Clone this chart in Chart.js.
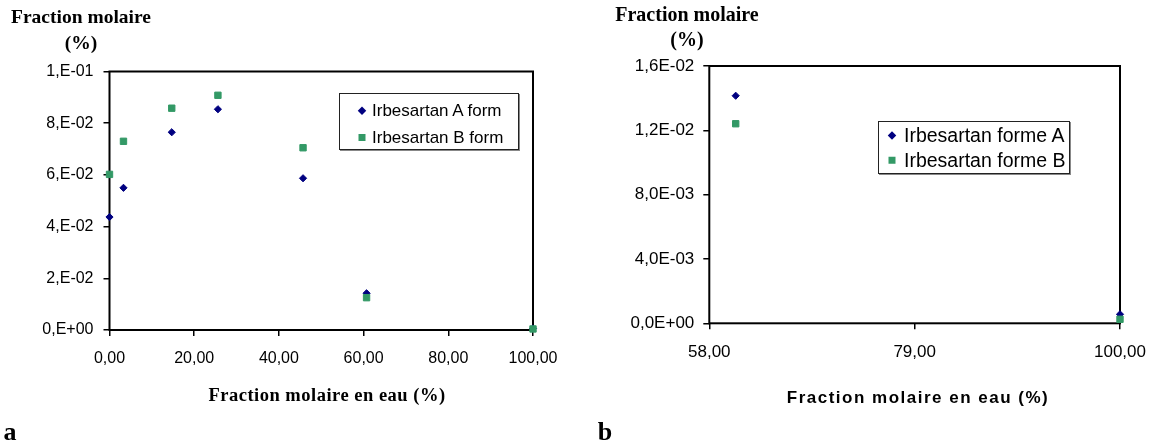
<!DOCTYPE html>
<html><head><meta charset="utf-8">
<script src="https://cdn.jsdelivr.net/npm/chart.js@4"></script>
<style>
html,body{margin:0;padding:0;background:#fff}
body{width:1151px;height:445px;position:relative;overflow:hidden}
canvas{position:absolute;top:0}
.t{position:absolute;white-space:nowrap;color:#000;transform:translate(-50%,-50%);line-height:1}
.serif{font-family:"Liberation Serif","Times New Roman",serif;font-weight:bold}
.sansb{font-family:"Liberation Sans",Arial,sans-serif;font-weight:bold}
.leg{position:absolute;border:1px solid #222;background:#fff;box-sizing:border-box;box-shadow:1px 1px 0 #888}
.row{position:absolute;left:0;white-space:nowrap;font-family:"Liberation Sans",Arial,sans-serif;color:#000;line-height:1;transform:translateY(-50%)}
.mk{position:absolute;top:50%}
</style>
</head><body>
<canvas id="ca" width="560" height="420" style="left:0"></canvas>
<canvas id="cb" width="571" height="420" style="left:580px"></canvas>

<div class="t serif" style="left:81px;top:17px;font-size:19.5px">Fraction molaire</div>
<div class="t serif" style="left:81px;top:43px;font-size:19.5px">(%)</div>
<div class="t serif" style="left:327px;top:395px;font-size:18.5px;letter-spacing:0.5px">Fraction molaire en eau (%)</div>
<div class="t serif" style="left:10px;top:432px;font-size:26px">a</div>

<div class="t serif" style="left:687px;top:14px;font-size:20px">Fraction molaire</div>
<div class="t serif" style="left:687px;top:39px;font-size:20px">(%)</div>
<div class="t sansb" style="left:918px;top:397px;font-size:17px;letter-spacing:1.5px">Fraction molaire en eau (%)</div>
<div class="t serif" style="left:605px;top:432px;font-size:26px">b</div>

<div id="legA" class="leg" style="left:339px;top:93px;width:180px;height:57px"></div>
<div id="legB" class="leg" style="left:878px;top:121px;width:192px;height:53px"></div>

<script>
// ---- Data: chart a ----
const waterA = [0, 3.3, 14.7, 25.6, 45.7, 60.7, 100];
const formA_a = [0.0437, 0.0550, 0.0765, 0.0854, 0.0587, 0.0142, 0.0006];
const formB_a = [0.0602, 0.0730, 0.0858, 0.0908, 0.0705, 0.0125, 0.0004];
const labelsA = ['Irbesartan A form', 'Irbesartan B form'];
const xTickValsA = [0, 20, 40, 60, 80, 100];
const xTickLabelsA = ['0,00', '20,00', '40,00', '60,00', '80,00', '100,00'];
const yTickValsA = [0, 0.02, 0.04, 0.06, 0.08, 0.1];
const yTickLabelsA = ['0,E+00', '2,E-02', '4,E-02', '6,E-02', '8,E-02', '1,E-01'];

// ---- Data: chart b ----
const waterB = [60.7, 100];
const formA_b = [0.01415, 0.00056];
const formB_b = [0.01241, 0.00025];
const labelsB = ['Irbesartan forme A', 'Irbesartan forme B'];
const xTickValsB = [58, 79, 100];
const xTickLabelsB = ['58,00', '79,00', '100,00'];
const yTickValsB = [0, 0.004, 0.008, 0.012, 0.016];
const yTickLabelsB = ['0,0E+00', '4,0E-03', '8,0E-03', '1,2E-02', '1,6E-02'];

const NAVY = '#000080';
const GREEN = '#339966';

const boxPlugin = {
  id: 'box',
  beforeDatasetsDraw(chart) {
    const a = chart.chartArea, ctx = chart.ctx;
    ctx.save();
    ctx.strokeStyle = '#000';
    ctx.lineWidth = 2;
    ctx.strokeRect(a.left, a.top, a.right - a.left, a.bottom - a.top);
    ctx.restore();
  }
};

function pts(xs, ys) { return xs.map((x, i) => ({x: x, y: ys[i]})); }

function makeChart(id, cfg) {
  const tickFont = {family: '"Liberation Sans", Arial, sans-serif', size: cfg.fontSize};
  return new Chart(document.getElementById(id), {
    type: 'scatter',
    data: {
      datasets: [
        {label: cfg.labels[0], data: pts(cfg.xs, cfg.ya), pointStyle: 'rectRot', pointRadius: 3.6,
         backgroundColor: NAVY, borderColor: NAVY, borderWidth: 1, order: 1, clip: false},
        {label: cfg.labels[1], data: pts(cfg.xs, cfg.yb), pointStyle: 'rect', pointRadius: 4.5,
         backgroundColor: GREEN, borderColor: GREEN, borderWidth: 1, order: 0, clip: false}
      ]
    },
    options: {
      responsive: false, animation: false, devicePixelRatio: 1,
      layout: {padding: {top: cfg.top, right: cfg.right, left: 0, bottom: 0}},
      plugins: {legend: {display: false}, tooltip: {enabled: false}},
      scales: {
        x: {
          type: 'linear', min: cfg.xTicks[0], max: cfg.xTicks[cfg.xTicks.length - 1],
          afterBuildTicks: s => { s.ticks = cfg.xTicks.map(v => ({value: v})); },
          afterFit: s => { s.height = cfg.xH; s.paddingLeft = 0; s.paddingRight = 0; },
          grid: {display: true, drawOnChartArea: false, drawTicks: true, tickLength: 6, color: '#000', lineWidth: 1.5},
          border: {display: false},
          ticks: {color: '#000', font: tickFont, padding: cfg.xPad, maxRotation: 0, autoSkip: false,
                  callback: (v, i) => cfg.xLabels[i]}
        },
        y: {
          type: 'linear', min: cfg.yTicks[0], max: cfg.yTicks[cfg.yTicks.length - 1],
          afterBuildTicks: s => { s.ticks = cfg.yTicks.map(v => ({value: v})); },
          afterFit: s => { s.width = cfg.yW; s.paddingTop = 0; s.paddingBottom = 0; },
          grid: {display: true, drawOnChartArea: false, drawTicks: true, tickLength: 6, color: '#000', lineWidth: 1.5},
          border: {display: false},
          ticks: {color: '#000', font: tickFont, padding: cfg.yPad, autoSkip: false,
                  callback: (v, i) => cfg.yLabels[i]}
        }
      }
    },
    plugins: [boxPlugin]
  });
}

makeChart('ca', {
  xs: waterA, ya: formA_a, yb: formB_a, labels: labelsA,
  xTicks: xTickValsA, xLabels: xTickLabelsA, yTicks: yTickValsA, yLabels: yTickLabelsA,
  top: 71.5, right: 27, yW: 109.5, xH: 90, fontSize: 16, xPad: 13, yPad: 10
});
makeChart('cb', {
  xs: waterB, ya: formA_b, yb: formB_b, labels: labelsB,
  xTicks: xTickValsB, xLabels: xTickLabelsB, yTicks: yTickValsB, yLabels: yTickLabelsB,
  top: 66, right: 31, yW: 129.3, xH: 96.7, fontSize: 17, xPad: 13, yPad: 9
});

function legend(el, labels, fontSize, rows, mkX, txtX) {
  const box = el.getBoundingClientRect();
  labels.forEach((lab, i) => {
    const r = document.createElement('div');
    r.className = 'row';
    r.style.top = (rows[i] - box.top - 1) + 'px';
    r.style.fontSize = fontSize + 'px';
    r.style.height = fontSize + 'px';
    r.style.width = '100%';
    const m = document.createElement('div');
    m.className = 'mk';
    if (i === 0) {
      m.style.cssText += 'width:5.5px;height:5.5px;background:' + NAVY + ';transform:translate(-50%,-50%) rotate(45deg);left:' + (mkX - box.left - 1) + 'px';
    } else {
      m.style.cssText += 'width:7px;height:7px;background:' + GREEN + ';transform:translate(-50%,-50%);left:' + (mkX - box.left - 1) + 'px';
    }
    const t = document.createElement('span');
    t.textContent = lab;
    t.style.position = 'absolute';
    t.style.left = (txtX - box.left - 1) + 'px';
    t.style.top = '0';
    r.appendChild(m); r.appendChild(t);
    el.appendChild(r);
  });
}
legend(document.getElementById('legA'), labelsA, 17, [110, 137], 362, 372);
legend(document.getElementById('legB'), labelsB, 19.5, [135.5, 160.5], 892, 904);
</script>
</body></html>
